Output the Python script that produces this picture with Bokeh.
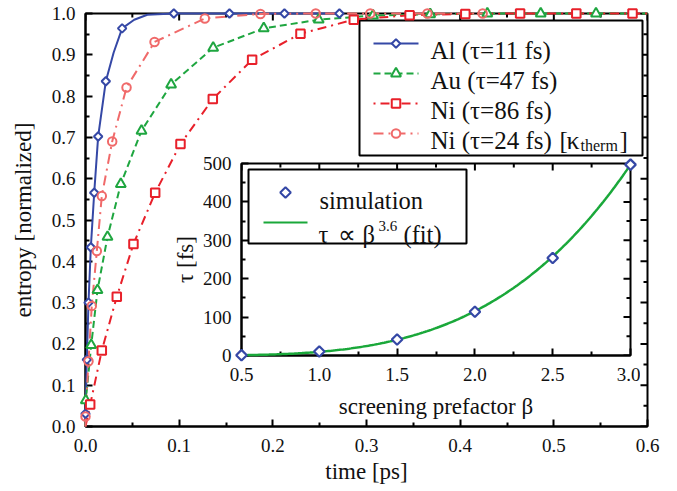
import numpy as np
from bokeh.plotting import figure
from bokeh.models import Range1d, Label, FixedTicker, PrintfTickFormatter
from bokeh.layouts import column
from bokeh.embed import file_html
from bokeh.resources import INLINE

FONT = "Liberation Serif"

# ---- entropy vs time (main panel) ----
# Al (tau = 11 fs): markers and the smooth line through them
al_t = [0.0, 0.0014, 0.0032, 0.0057, 0.0093, 0.0135, 0.0217, 0.0391, 0.0943, 0.1537, 0.2124, 0.2711]
al_s = [0.031, 0.162, 0.300, 0.434, 0.566, 0.702, 0.836, 0.964, 1.0, 1.0, 1.0, 1.0]
al_line_t = [0.0, 0.0, 0.0014, 0.0032, 0.0057, 0.0093, 0.0135, 0.0217, 0.030, 0.0391, 0.052, 0.066, 0.0943, 0.1537, 0.2124, 0.2711]
al_line_s = [0.0, 0.031, 0.162, 0.300, 0.434, 0.566, 0.702, 0.836, 0.905, 0.964, 0.985, 0.997, 1.0, 1.0, 1.0, 1.0]

# Au (tau = 47 fs)
au_t = [0.0003, 0.0061, 0.0128, 0.0235, 0.0377, 0.0598, 0.0914, 0.1363, 0.1903, 0.249, 0.307, 0.368, 0.429, 0.486, 0.545]
au_s = [0.063, 0.197, 0.330, 0.459, 0.587, 0.716, 0.828, 0.917, 0.964, 0.985, 0.995, 0.998, 1.0, 1.0, 1.0]
au_line_t = [0.0] + au_t + [0.6]
au_line_s = [0.0] + au_s + [1.0]

# Ni (tau = 86 fs)
ni_t = [0.005, 0.0174, 0.0334, 0.0512, 0.0744, 0.1014, 0.1359, 0.1779, 0.2295, 0.2864, 0.346, 0.4055, 0.464, 0.524, 0.584]
ni_s = [0.053, 0.184, 0.314, 0.442, 0.566, 0.684, 0.793, 0.888, 0.951, 0.985, 0.996, 0.999, 1.0, 1.0, 1.0]
ni_line_t = [0.0] + ni_t + [0.6]
ni_line_s = [0.0] + ni_s + [1.0]

# Ni (tau = 24 fs) with thermal conductivity
nk_t = [0.0, 0.0032, 0.0067, 0.0121, 0.0174, 0.0285, 0.0438, 0.0737, 0.1274, 0.1868, 0.2458, 0.304, 0.365, 0.424]
nk_s = [0.024, 0.158, 0.292, 0.425, 0.558, 0.690, 0.821, 0.931, 0.988, 0.999, 1.0, 1.0, 1.0, 1.0]
nk_line_t = [0.0] + nk_t
nk_line_s = [0.0] + nk_s

# ---- relaxation time vs screening prefactor (inset) ----
beta_sim = [0.5, 1.0, 1.5, 2.0, 2.5, 3.0]
tau_sim = [0.8, 10.4, 41.7, 114.0, 254.0, 497.0]
fit_exponent = 3.6

x_ticks = [0.0, 0.1, 0.2, 0.3, 0.4, 0.5, 0.6]
y_ticks = [0.0, 0.1, 0.2, 0.3, 0.4, 0.5, 0.6, 0.7, 0.8, 0.9, 1.0]
ix_ticks = [0.5, 1.0, 1.5, 2.0, 2.5, 3.0]
iy_ticks = [0, 100, 200, 300, 400, 500]

C_AL = "#3548a6"
C_AU = "#1fa640"
C_NI = "#e8202a"
C_NK = "#f06a6a"
C_FIT = "#1aa83a"
TXT = "#111111"

# frame geometry on the page (pixels): left, top, width, height
MAIN = (85, 13, 562, 413)
INS = (241, 163, 389, 192)
MAIN_BORDER_L = 100
INS_BORDER_L, INS_BORDER_T = 100, 14
MAJOR_LEN, MINOR_LEN = 7, 4


def minors(ticks):
    return [(a + b) / 2 for a, b in zip(ticks[:-1], ticks[1:])]


def style_axis(ax, ticks, fmt):
    ax.ticker = FixedTicker(ticks=ticks, minor_ticks=minors(ticks))
    ax.formatter = PrintfTickFormatter(format=fmt)
    ax.axis_line_width = 2
    ax.axis_line_color = "black"
    ax.major_tick_in = MAJOR_LEN
    ax.major_tick_out = 0
    ax.minor_tick_in = MINOR_LEN
    ax.minor_tick_out = 0
    ax.major_tick_line_width = 2
    ax.minor_tick_line_width = 2
    ax.major_tick_line_color = "black"
    ax.minor_tick_line_color = "black"
    ax.major_label_text_font = FONT
    ax.major_label_text_font_size = "19px"
    ax.major_label_text_color = TXT
    ax.axis_label_text_font = FONT
    ax.axis_label_text_font_size = "23px"
    ax.axis_label_text_font_style = "normal"
    ax.axis_label_text_color = TXT


def px_to_data(fig, geom, px, py):
    """Page pixel position -> data units of a figure whose frame sits at geom."""
    left, top, w, h = geom
    xr, yr = fig.x_range, fig.y_range
    x = xr.start + (px - left) / w * (xr.end - xr.start)
    y = yr.start + (top + h - py) / h * (yr.end - yr.start)
    return x, y


def mirror_ticks(fig, geom, xt, yt):
    """Inward ticks on the top and right edges of the frame."""
    _, _, w, h = geom
    xr, yr = fig.x_range, fig.y_range
    sx = (xr.end - xr.start) / w
    sy = (yr.end - yr.start) / h
    xs = list(xt) + minors(xt)
    lx = [MAJOR_LEN] * len(xt) + [MINOR_LEN] * (len(xt) - 1)
    fig.segment(x0=xs, y0=[yr.end] * len(xs), x1=xs, y1=[yr.end - l * sy for l in lx],
                line_color="black", line_width=2)
    ys = list(yt) + minors(yt)
    ly = [MAJOR_LEN] * len(yt) + [MINOR_LEN] * (len(yt) - 1)
    fig.segment(x0=[xr.end] * len(ys), y0=ys, x1=[xr.end - l * sx for l in ly], y1=ys,
                line_color="black", line_width=2)


def legend_box(fig, geom, x0, y0, x1, y1):
    l, b = px_to_data(fig, geom, x0, y1)
    r, t = px_to_data(fig, geom, x1, y0)
    fig.quad(left=[l], right=[r], bottom=[b], top=[t], fill_color="white",
             line_color="black", line_width=2)


def legend_text(fig, geom, px, py, text, size):
    x, y = px_to_data(fig, geom, px, py)
    fig.add_layout(Label(x=x, y=y, text=text, text_font=FONT, text_font_size=size,
                         text_color=TXT, text_baseline="alphabetic"))


def legend_line(fig, geom, px0, px1, py, **kw):
    x0, y = px_to_data(fig, geom, px0, py)
    x1, _ = px_to_data(fig, geom, px1, py)
    fig.line([x0, x1], [y, y], line_width=2, **kw)


def legend_marker(fig, geom, px, py, **kw):
    x, y = px_to_data(fig, geom, px, py)
    fig.scatter([x], [y], line_width=2, **kw)


# ================= main panel =================
p = figure(frame_width=MAIN[2], frame_height=MAIN[3],
           x_range=Range1d(0, 0.6), y_range=Range1d(0, 1.0),
           output_backend="svg", toolbar_location=None,
           min_border_left=MAIN_BORDER_L, min_border_right=30,
           min_border_top=MAIN[1], min_border_bottom=65)
p.styles = {"position": "relative", "left": f"{MAIN[0] - MAIN_BORDER_L}px"}
p.grid.visible = False
p.outline_line_color = "black"
p.outline_line_width = 2

style_axis(p.xaxis[0], x_ticks, "%.1f")
style_axis(p.yaxis[0], y_ticks, "%.1f")
p.xaxis[0].axis_label = "time [ps]"
p.yaxis[0].axis_label = "entropy [normalized]"
p.xaxis[0].major_label_standoff = 12
p.yaxis[0].major_label_standoff = 10
p.xaxis[0].axis_label_standoff = 4
p.yaxis[0].axis_label_standoff = 13
mirror_ticks(p, MAIN, x_ticks, y_ticks)

# legend frame and keys
legend_box(p, MAIN, 359, 20, 642, 155)
rows = [43, 73, 103, 133]
legend_line(p, MAIN, 373, 418, rows[0], line_color=C_AL)
legend_marker(p, MAIN, 395.5, rows[0], marker="square", angle=np.pi / 4, size=6,
              line_color=C_AL, fill_color="white")
legend_line(p, MAIN, 373, 418, rows[1], line_color=C_AU, line_dash="7 4")
legend_marker(p, MAIN, 395.5, rows[1], marker="triangle", size=10,
              line_color=C_AU, fill_color="white")
legend_line(p, MAIN, 373, 418, rows[2], line_color=C_NI, line_dash="2 5 9 5")
legend_marker(p, MAIN, 395.5, rows[2], marker="square", size=8.5,
              line_color=C_NI, fill_color="white")
legend_line(p, MAIN, 373, 418, rows[3], line_color=C_NK, line_dash="10 5 2 5")
legend_marker(p, MAIN, 395.5, rows[3], marker="circle", size=8.5,
              line_color=C_NK, fill_color="white")

legend_text(p, MAIN, 430, 49.5, "Al (τ=11 fs)", "25px")
legend_text(p, MAIN, 430, 79.5, "Au (τ=47 fs)", "25px")
legend_text(p, MAIN, 430, 109.5, "Ni (τ=86 fs)", "25px")
legend_text(p, MAIN, 430, 139.5, "Ni (τ=24 fs)", "25px")
legend_text(p, MAIN, 559, 139.5, "[", "25px")
legend_text(p, MAIN, 566, 139.5, "κ", "26px")
legend_text(p, MAIN, 580, 145, "therm", "16px")
legend_text(p, MAIN, 619, 139.5, "]", "25px")

# data
p.line(al_line_t, al_line_s, color=C_AL, line_width=2, level="overlay")
p.line(au_line_t, au_line_s, color=C_AU, line_width=2, line_dash="7 4", level="overlay")
p.line(ni_line_t, ni_line_s, color=C_NI, line_width=2, line_dash="9 5 2 5", level="overlay")
p.line(nk_line_t, nk_line_s, color=C_NK, line_width=2, line_dash="10 5 2 5", level="overlay")
p.scatter(al_t, al_s, marker="square", angle=np.pi / 4, size=6, line_color=C_AL,
          line_width=2, fill_color="white", level="overlay")
p.scatter(au_t, au_s, marker="triangle", size=10, line_color=C_AU,
          line_width=2, fill_color="white", level="overlay")
p.scatter(ni_t, ni_s, marker="square", size=8.5, line_color=C_NI,
          line_width=2, fill_color="white", level="overlay")
p.scatter(nk_t, nk_s, marker="circle", size=8.5, line_color=C_NK,
          line_width=2, fill_color=None, level="overlay")

# ================= inset =================
ins = figure(frame_width=INS[2], frame_height=INS[3],
             x_range=Range1d(0.5, 3.0), y_range=Range1d(0, 500),
             output_backend="svg", toolbar_location=None,
             min_border_left=INS_BORDER_L, min_border_right=10,
             min_border_top=INS_BORDER_T, min_border_bottom=70,
             border_fill_color=None, background_fill_color="white")
ins.styles = {"position": "absolute", "left": f"{INS[0] - INS_BORDER_L}px",
              "top": f"{INS[1] - INS_BORDER_T}px"}
ins.grid.visible = False
ins.outline_line_color = "black"
ins.outline_line_width = 2

style_axis(ins.xaxis[0], ix_ticks, "%.1f")
style_axis(ins.yaxis[0], iy_ticks, "%d")
ins.xaxis[0].axis_label = "screening prefactor β"
ins.yaxis[0].axis_label = "τ [fs]"
ins.xaxis[0].major_label_standoff = 12
ins.yaxis[0].major_label_standoff = 10
ins.xaxis[0].axis_label_standoff = 10
ins.yaxis[0].axis_label_standoff = 2
mirror_ticks(ins, INS, ix_ticks, iy_ticks)

legend_box(ins, INS, 248, 169, 466, 243)
legend_marker(ins, INS, 285, 192, marker="square", angle=np.pi / 4, size=7.5,
              line_color=C_AL, fill_color="white")
legend_line(ins, INS, 263, 307, 222, line_color=C_FIT)
legend_text(ins, INS, 319, 200, "simulation", "24.5px")
legend_text(ins, INS, 318, 234, "τ", "24.5px")
legend_text(ins, INS, 337, 234, "∝", "24.5px")
legend_text(ins, INS, 362, 234, "β", "24.5px")
legend_text(ins, INS, 378, 225, "3.6", "15px")
legend_text(ins, INS, 403, 234, "(fit)", "24.5px")

# power-law fit anchored on the largest simulated point
beta_fit = np.linspace(beta_sim[0], beta_sim[-1], 200)
tau_fit = tau_sim[-1] * (beta_fit / beta_sim[-1]) ** fit_exponent
ins.line(beta_fit, tau_fit, color=C_FIT, line_width=2.5, level="overlay")
ins.scatter(beta_sim, tau_sim, marker="square", angle=np.pi / 4, size=7.5,
            line_color=C_AL, line_width=2.2, fill_color="white", level="overlay")

layout = column(p, ins)
open("out.html", "w").write(file_html(layout, INLINE))
